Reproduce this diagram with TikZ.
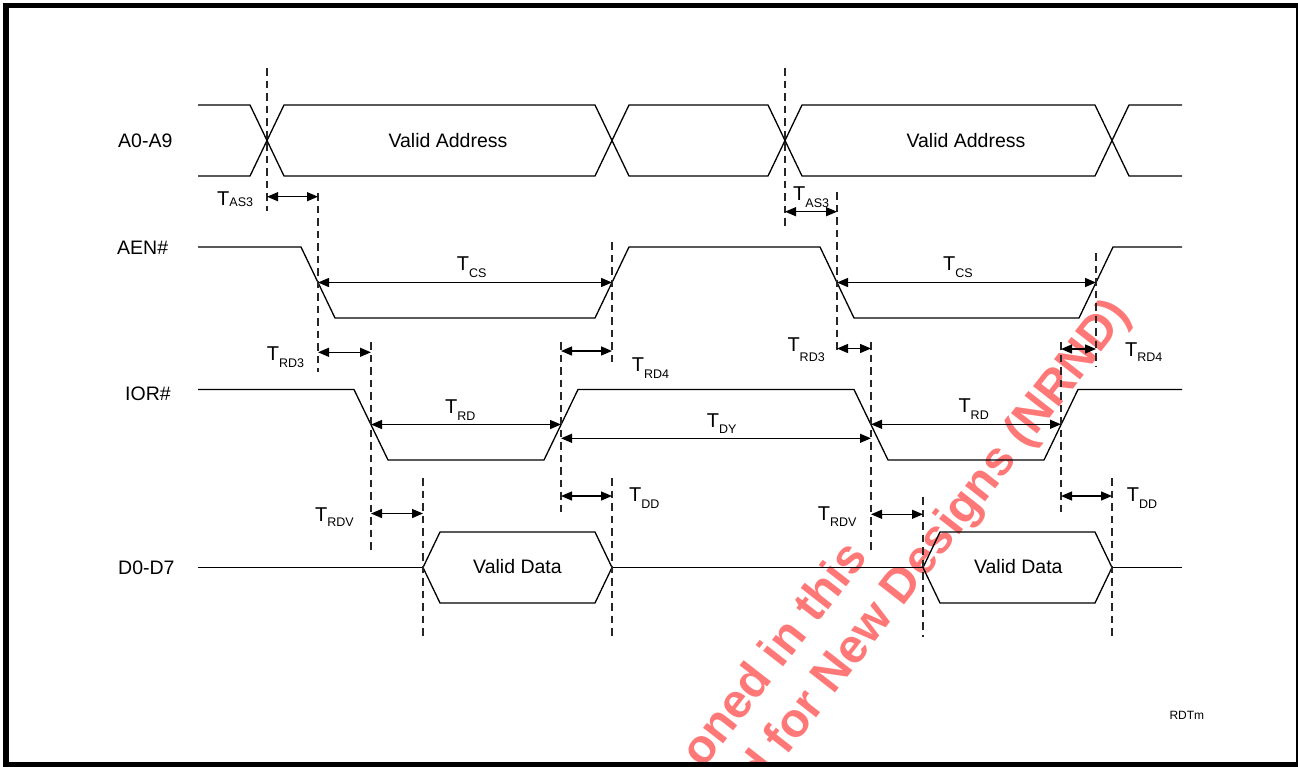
\documentclass[tikz,border=0pt]{standalone}
\usepackage{fontspec}
\setmainfont{Liberation Sans}
\usetikzlibrary{arrows.meta}
\newcommand{\Tlab}[2][6.5]{\fontsize{20}{20}\selectfont T\raisebox{-#1pt}{\fontsize{12.5}{12.5}\selectfont #2}}
\definecolor{wm}{RGB}{255,120,120}
\begin{document}
\begin{tikzpicture}[x=1pt,y=-1pt,
  sig/.style={line width=1.3pt,line join=miter},
  guide/.style={line width=1.3pt,dash pattern=on 7.5pt off 5pt,black!85},
  dim/.style={line width=1.3pt,{Triangle[length=11pt,width=9pt]}-{Triangle[length=11pt,width=9pt]}},
  lab/.style={font=\fontsize{19.5}{19.5}\selectfont,inner sep=0pt,anchor=base west},
  tl/.style={inner sep=0pt,anchor=base west},
  wmark/.style={text=wm,font=\fontsize{48}{48}\selectfont\bfseries,inner sep=0pt,anchor=base west,rotate=52}]
\path[use as bounding box] (0,0) rectangle (1298,766);
\clip (0,0) rectangle (1298,766);
\fill[white] (0,0) rectangle (1298,766);
% watermark
\node[wmark] (wm1) at (703,770) {oned in this};
\node[wmark] (wm2) at (760,790) {d for New Designs (NRND)};
% signal names
\node[lab] (nA) at (118,147.5) {A0-A9};
\node[lab] (nAEN) at (117,254) {AEN\#};
\node[lab] (nIOR) at (125,400) {IOR\#};
\node[lab] (nD) at (118,574.3) {D0-D7};
% A0-A9 bus
\draw[sig] (198,105)--(250,105)--(284,176)--(595,176)--(629,105)--(768,105)--(802,176)--(1095,176)--(1129,105)--(1182,105);
\draw[sig] (198,176)--(250,176)--(284,105)--(595,105)--(629,176)--(768,176)--(802,105)--(1095,105)--(1129,176)--(1182,176);
\node[font=\fontsize{19.5}{19.5}\selectfont,inner sep=0pt,anchor=base] (va1) at (448,147.3) {Valid Address};
\node[font=\fontsize{19.5}{19.5}\selectfont,inner sep=0pt,anchor=base] (va2) at (966,147.3) {Valid Address};
% AEN#
\draw[sig] (198,247)--(301,247)--(335,318)--(595,318)--(629,247)--(820,247)--(854,318)--(1079,318)--(1113,247)--(1182,247);
% IOR#
\draw[sig] (198,389.5)--(354,389.5)--(388,460)--(544,460)--(578,389.5)--(854,389.5)--(888,460)--(1044,460)--(1078,389.5)--(1182,389.5);
% D0-D7
\draw[sig] (198,567.5)--(423,567.5);
\draw[sig] (423,567.5)--(440,532)--(595,532)--(612,567.5)--(595,603)--(440,603)--cycle;
\draw[sig] (612,567.5)--(923,567.5);
\draw[sig] (923,567.5)--(940,532)--(1095,532)--(1112,567.5)--(1095,603)--(940,603)--cycle;
\draw[sig] (1112,567.5)--(1182,567.5);
\node[font=\fontsize{19.5}{19.5}\selectfont,inner sep=0pt,anchor=base] (vd1) at (517.5,573.3) {Valid Data};
\node[font=\fontsize{19.5}{19.5}\selectfont,inner sep=0pt,anchor=base] (vd2) at (1018.3,573.3) {Valid Data};
% guide lines
\draw[guide] (267,68)--(267,211);
\draw[guide] (318,193)--(318,372);
\draw[guide] (785,68)--(785,230);
\draw[guide] (837,192)--(837,352);
\draw[guide] (612,242)--(612,365);
\draw[guide] (1096,253)--(1096,367);
\draw[guide] (371,342)--(371,550);
\draw[guide] (561,342)--(561,513);
\draw[guide] (871,342)--(871,550);
\draw[guide] (1061,342)--(1061,513);
\draw[guide] (423,478)--(423,637);
\draw[guide] (612,478)--(612,637);
\draw[guide] (923,497)--(923,637);
\draw[guide] (1112,478)--(1112,638);
% dimension arrows
\draw[dim] (267,196.7)--(318,196.7);
\draw[dim] (785,211.7)--(837,211.7);
\draw[dim] (318,282.5)--(612,282.5);
\draw[dim] (837,282.5)--(1096,282.5);
\draw[dim] (318,352.3)--(371,352.3);
\draw[dim] (561,351)--(612,351);
\draw[dim] (837,348.5)--(871,348.5);
\draw[dim] (1061,349)--(1096,349);
\draw[dim] (371,424.5)--(561,424.5);
\draw[dim] (561,438.3)--(871,438.3);
\draw[dim] (871,424.3)--(1061,424.3);
\draw[dim] (561,496)--(612,496);
\draw[dim] (1061,496)--(1112,496);
\draw[dim] (371,513.5)--(423,513.5);
\draw[dim] (871,514.3)--(923,514.3);
% timing labels
\node[tl] (tas3a) at (217,205.5) {\Tlab[1]{AS3}};
\node[tl] (tas3b) at (793,200) {\Tlab[7]{AS3}};
\node[tl] (tcsa) at (456.7,270.7) {\Tlab[7]{CS}};
\node[tl] (tcsb) at (943,270.7) {\Tlab[7]{CS}};
\node[tl] (trd3a) at (266.7,360) {\Tlab[7]{RD3}};
\node[tl] (trd4a) at (631.7,371.7) {\Tlab[6.5]{RD4}};
\node[tl] (trd3b) at (787.3,351.7) {\Tlab[10]{RD3}};
\node[tl] (trd4b) at (1125,356.7) {\Tlab[5]{RD4}};
\node[tl] (trda) at (445,413) {\Tlab[7]{RD}};
\node[tl] (tdy) at (706.7,427) {\Tlab[6]{DY}};
\node[tl] (trdb) at (958.3,412.7) {\Tlab[6.6]{RD}};
\node[tl] (tdda) at (629,501.7) {\Tlab[6.3]{DD}};
\node[tl] (tddb) at (1126.7,501.7) {\Tlab[6.3]{DD}};
\node[tl] (trdva) at (315,521.7) {\Tlab[5]{RDV}};
\node[tl] (trdvb) at (817.7,520) {\Tlab[6.7]{RDV}};
\node[font=\fontsize{12}{12}\selectfont,inner sep=0pt,anchor=base west] (rdtm) at (1169.3,719.3) {RDTm};
% frame
\draw[line width=5.5pt] (6,5.5) rectangle (1299,765);
\end{tikzpicture}
\end{document}
